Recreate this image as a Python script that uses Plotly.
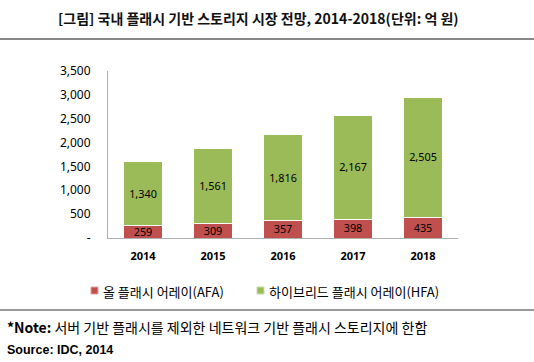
import plotly.graph_objects as go

years = ["2014", "2015", "2016", "2017", "2018"]
afa = [259, 309, 357, 398, 435]
hfa = [1340, 1561, 1816, 2167, 2505]
ytick_vals = [0, 500, 1000, 1500, 2000, 2500, 3000, 3500]
ytick_text = ["-", "500", "1,000", "1,500", "2,000", "2,500", "3,000", "3,500"]
afa_name = "올 플래시 어레이(AFA)"
hfa_name = "하이브리드 플래시 어레이(HFA)"
title = "<b>[그림] 국내 플래시 기반 스토리지 시장 전망, 2014-2018(단위: 억 원)</b>"
note = "<b>*Note:</b> 서버 기반 플래시를 제외한 네트워크 기반 플래시 스토리지에 한함"
source = "<b>Source: IDC, 2014</b>"

RED = "#C0504D"
GREEN = "#9BBB59"

W, H = 534, 362
L, R, T, B = 108, 458, 71, 238
pw, ph = R - L, B - T

def px(x):
    return (x - L) / pw

def py(y):
    return (B - y) / ph

label_font = dict(family="Noto Sans", size=12.5, color="black")

fig = go.Figure()
fig.add_trace(go.Bar(
    x=years, y=afa, name=afa_name, marker=dict(color=RED, line=dict(color="white", width=1)),
    text=[f"{v:,}" for v in afa], textposition="inside", insidetextanchor="middle", textangle=0,
    textfont=label_font, showlegend=False,
))
fig.add_trace(go.Bar(
    x=years, y=hfa, name=hfa_name, marker=dict(color=GREEN, line=dict(color="white", width=1)),
    text=[f"{v:,}" for v in hfa], textposition="inside", insidetextanchor="middle", textangle=0,
    textfont=label_font, showlegend=False,
))

shapes = [
    dict(type="line", xref="paper", yref="paper", x0=px(0), x1=px(W), y0=py(39), y1=py(39),
         line=dict(color="#888888", width=2)),
    dict(type="line", xref="paper", yref="paper", x0=px(0), x1=px(W), y0=py(310), y1=py(310),
         line=dict(color="#999999", width=2)),
    dict(type="rect", xref="paper", yref="paper", x0=px(91), x1=px(98), y0=py(287), y1=py(294),
         fillcolor=RED, line=dict(color="#E0A0A0", width=1)),
    dict(type="rect", xref="paper", yref="paper", x0=px(257), x1=px(264), y0=py(287), y1=py(294),
         fillcolor=GREEN, line=dict(color="#C8DCA8", width=1)),
]

annotations = [
    dict(text=title, xref="paper", yref="paper", x=px(258), y=py(18), xanchor="center", yanchor="middle",
         showarrow=False, font=dict(family="Noto Sans CJK KR", size=14, color="#111111")),
    dict(text=afa_name, xref="paper", yref="paper", x=px(101), y=py(291), xanchor="left", yanchor="middle",
         showarrow=False, font=dict(family="Noto Sans CJK KR", size=13, color="black")),
    dict(text=hfa_name, xref="paper", yref="paper", x=px(267), y=py(291), xanchor="left", yanchor="middle",
         showarrow=False, font=dict(family="Noto Sans CJK KR", size=13, color="black")),
    dict(text=note, xref="paper", yref="paper", x=px(5), y=py(327), xanchor="left", yanchor="middle",
         showarrow=False, font=dict(family="Noto Sans CJK KR", size=14, color="black")),
    dict(text=source, xref="paper", yref="paper", x=px(5), y=py(350), xanchor="left", yanchor="middle",
         showarrow=False, font=dict(family="Liberation Sans", size=12.5, color="black")),
]

fig.update_layout(
    barmode="stack", bargap=0.44,
    width=W, height=H,
    margin=dict(l=L, r=W - R, t=T, b=H - B, pad=0),
    paper_bgcolor="white", plot_bgcolor="white",
    shapes=shapes, annotations=annotations,
    showlegend=False,
    uniformtext=dict(mode="show", minsize=10),
)
fig.update_xaxes(
    showline=True, linecolor="#B0B0B0", linewidth=1, showgrid=False, ticks="",
    tickfont=dict(family="Noto Sans", size=11, color="black"),
    tickvals=years, ticktext=[f"<b>{y}</b>" for y in years], ticklabelstandoff=8,
)
fig.update_yaxes(
    range=[0, 3500], tickvals=ytick_vals, ticktext=ytick_text,
    showline=True, linecolor="#B0B0B0", linewidth=1, showgrid=False, zeroline=False, ticks="",
    tickfont=dict(family="Noto Sans", size=12, color="black"), ticklabelstandoff=14,
)

fig.write_html("out.html", config={"displayModeBar": False},
               post_script="document.body.style.margin='0';document.body.style.padding='0';")
